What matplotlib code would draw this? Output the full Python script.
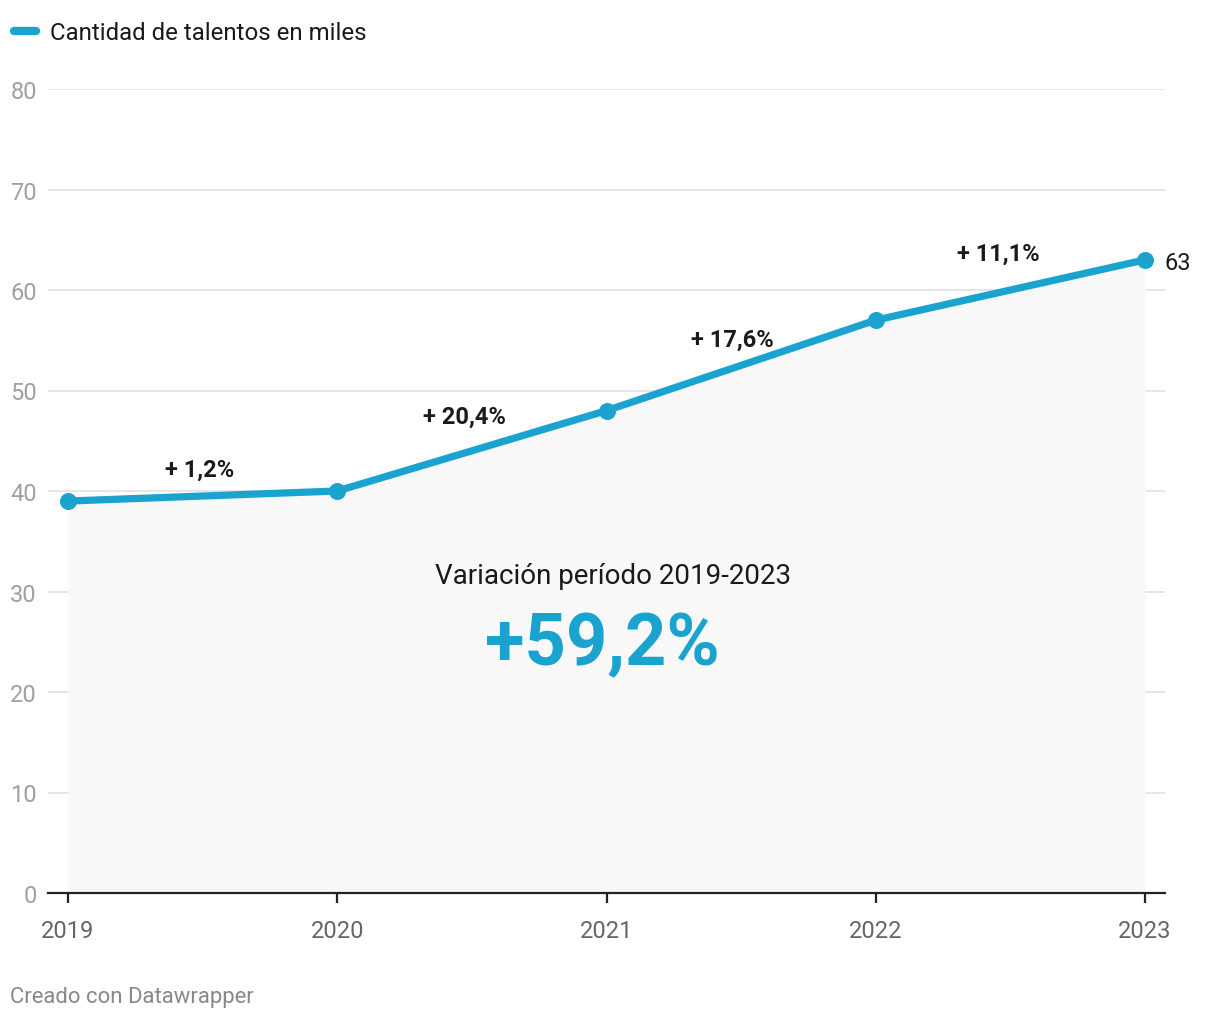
import matplotlib
matplotlib.use("Agg")
import matplotlib.pyplot as plt
import numpy as np

plt.rcParams['font.family'] = ['Roboto', 'DejaVu Sans']

years = [2019, 2020, 2021, 2022, 2023]
talentos = [39, 40, 48, 57, 63]
variaciones = ["+ 1,2%", "+ 20,4%", "+ 17,6%", "+ 11,1%"]
y_ticks = [0, 10, 20, 30, 40, 50, 60, 70, 80]
legend_label = "Cantidad de talentos en miles"
total_label = "Variación período 2019-2023"
total_value = "+59,2%"

BLUE = "#1ba3d0"

fig = plt.figure(figsize=(12.2, 10.2), dpi=100)
W, H = 1220, 1020
ax = fig.add_axes([48 / W, (H - 894) / H, (1165 - 48) / W, (894 - 90) / H])

ax.set_xlim(2019 - 20 / 269.25, 2023 + 20 / 269.25)
ax.set_ylim(0, 80)

for y in y_ticks[1:]:
    ax.axhline(y, color="#e2e2e2", lw=1.2, zorder=0)

ax.fill_between(years, talentos, 0, color="#f8f8f8", zorder=1, lw=0)
ax.plot(years, talentos, color=BLUE, lw=5.2, solid_capstyle="round", zorder=3)
ax.scatter(years, talentos, s=150, color=BLUE, zorder=4, lw=0)

for s in ["top", "right", "left"]:
    ax.spines[s].set_visible(False)
ax.spines["bottom"].set_color("#222222")
ax.spines["bottom"].set_linewidth(1.6)
ax.spines["bottom"].set_zorder(5)

ax.set_xticks(years)
ax.set_xticklabels([str(y) for y in years])
ax.tick_params(axis="x", length=7, width=1.6, color="#222222", labelsize=17,
               labelcolor="#666666", pad=12)
ax.set_yticks(y_ticks)
ax.set_yticklabels([str(y) for y in y_ticks])
ax.tick_params(axis="y", length=0, labelsize=17, labelcolor="#a0a0a0", pad=8)

x_offsets = [-2, -5, -6, -9]
y_offsets = [19.5, 24.5, 18.5, 26.5]
for i, lab in enumerate(variaciones):
    xm = (years[i] + years[i + 1]) / 2
    ym = (talentos[i] + talentos[i + 1]) / 2
    ax.annotate(lab, (xm, ym), xytext=(x_offsets[i], y_offsets[i]),
                textcoords="offset points", ha="center", va="center",
                fontsize=17, fontweight="bold", color="#1a1a1a", zorder=6)

ax.annotate(str(talentos[-1]), (years[-1], talentos[-1]), xytext=(14, -2),
            textcoords="offset points", ha="left", va="center",
            fontsize=17, color="#1a1a1a")

ax.text(2020.0 + (613 - 337) / 269.25, (894 - 577) / 10.05, total_label,
        ha="center", va="center", fontsize=20, color="#1a1a1a", zorder=6)
ax.text(2020.0 + (602 - 337) / 269.25, (894 - 646) / 10.05, total_value,
        ha="center", va="center", fontsize=52, fontweight="bold", color=BLUE, zorder=6)

# legend
fig.add_artist(plt.Line2D([14 / W, 36 / W], [(H - 32) / H, (H - 32) / H],
                          color=BLUE, lw=6, solid_capstyle="round"))
fig.text(50 / W, (H - 33) / H, legend_label, ha="left", va="center",
         fontsize=17.3, color="#1a1a1a")

fig.text(10 / W, (H - 998) / H, "Creado con Datawrapper", ha="left", va="center",
         fontsize=15.9, color="#888888")

fig.savefig("out.png", dpi=100, facecolor="white")
